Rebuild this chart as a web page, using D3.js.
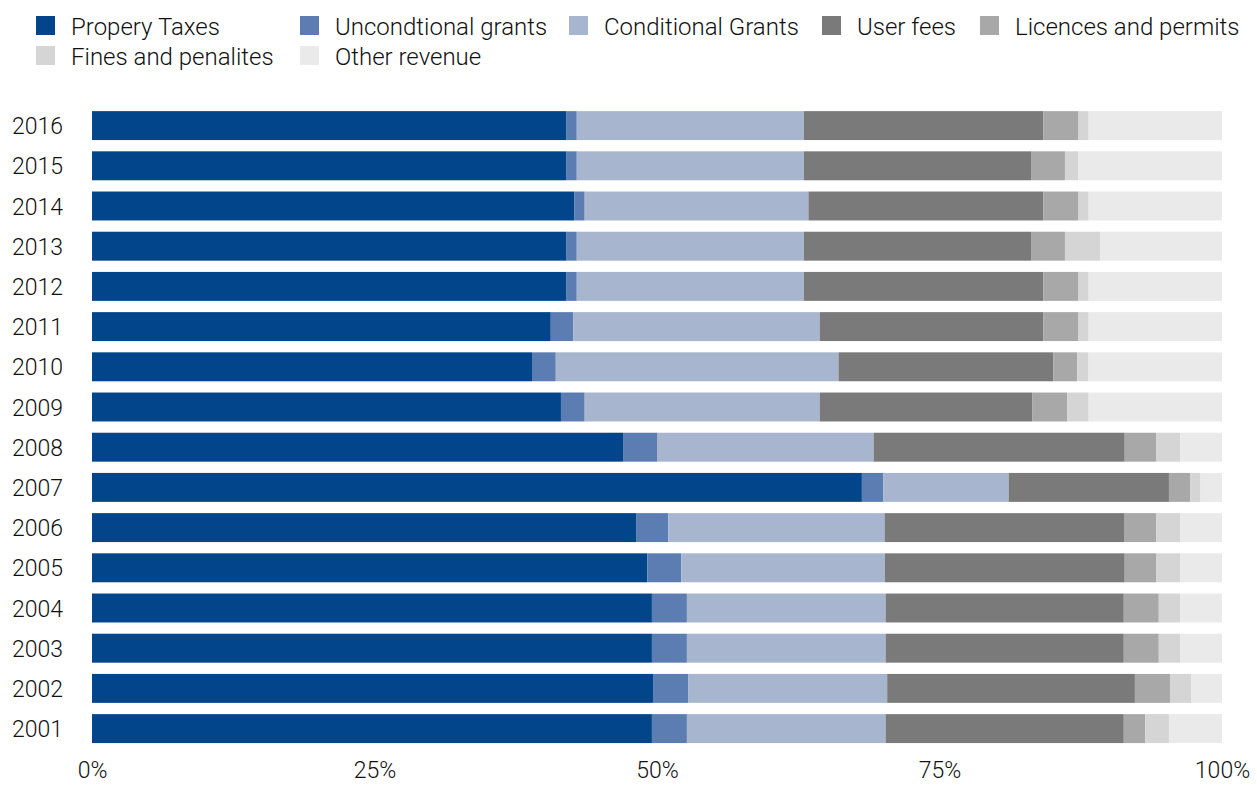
<!DOCTYPE html>
<html lang="en">
  <head>
    <meta charset="utf-8"/>
    <title>Revenue sources by year</title>
    <script src="https://cdn.jsdelivr.net/npm/d3@7"></script>
    <style>
      body { margin: 0; background: #fff; }
      text { font-family: Roboto, "Liberation Sans", sans-serif; font-weight: 300; fill: #111; }
    </style>
  </head>
  <body>
    <div id="chart"></div>
    <script type="text/javascript">

      // chart data, top bar first
      var years = ["2016","2015","2014","2013","2012","2011","2010","2009",
                   "2008","2007","2006","2005","2004","2003","2002","2001"];
      var seriesNames = ["Propery Taxes","Uncondtional grants","Conditional Grants",
                         "User fees","Licences and permits","Fines and penalites","Other revenue"];
      var propertyTaxes = [42.0,42.0,42.7,42.0,42.0,40.6,38.9,41.5,47.0,68.2,48.1,49.1,49.6,49.6,49.6,49.6];
      var unconditional = [ 0.9, 0.9, 0.9, 0.9, 0.9, 2.0, 2.1, 2.1, 3.0, 1.9, 2.8, 3.0, 3.1, 3.1, 3.1, 3.1];
      var conditional   = [20.1,20.1,19.8,20.1,20.1,21.8,25.0,20.8,19.1,11.1,19.1,18.0,17.6,17.6,17.6,17.6];
      var userFees      = [21.2,20.1,20.8,20.1,21.2,19.8,19.0,18.8,22.2,14.2,21.2,21.2,21.1,21.1,21.9,21.1];
      var licences      = [ 3.1, 3.0, 3.1, 3.0, 3.1, 3.1, 2.1, 3.1, 2.8, 1.9, 2.8, 2.8, 3.1, 3.1, 3.1, 1.9];
      var fines         = [ 0.9, 1.2, 0.9, 3.1, 0.9, 0.9, 1.0, 1.9, 2.1, 0.9, 2.1, 2.1, 1.9, 1.9, 1.9, 2.1];
      var otherRevenue  = [11.8,12.7,11.8,10.8,11.8,11.8,11.8,11.8, 3.7, 1.9, 3.7, 3.7, 3.7, 3.7, 2.7, 4.7];
      var xTicks = [0, 0.25, 0.5, 0.75, 1];

      var colours = ["#03458a","#5b7db1","#a7b6ce","#7a7a7a","#a8a8a8","#d5d5d5","#eaeaea"];

      var w = 1257;
      var h = 785;

      // build rows for the stack
      var seriesValues = [propertyTaxes, unconditional, conditional, userFees, licences, fines, otherRevenue];
      var rows = years.map(function(y, i) {
        var row = { year: y };
        seriesNames.forEach(function(s, j) { row[s] = seriesValues[j][i]; });
        return row;
      });

      var stack = d3.stack()
        .keys(seriesNames)
        .offset(d3.stackOffsetExpand);
      var stacked = stack(rows);

      var x = d3.scaleLinear()
        .domain([0, 1])
        .range([92, 1222]);

      var y = d3.scaleBand()
        .domain(years)
        .range([105.5, 748.7])
        .paddingInner(0.28)
        .paddingOuter(0.14);

      var colour = d3.scaleOrdinal()
        .domain(seriesNames)
        .range(colours);

      var svg = d3.select("#chart")
        .append("svg")
        .attr("width", w)
        .attr("height", h);

      // bars
      svg.append("g")
        .selectAll("g")
        .data(stacked)
        .enter()
        .append("g")
        .attr("fill", function(d) { return colour(d.key); })
        .selectAll("rect")
        .data(function(d) { return d; })
        .enter()
        .append("rect")
        .attr("x", function(d) { return x(d[0]); })
        .attr("y", function(d) { return y(d.data.year); })
        .attr("width", function(d) { return x(d[1]) - x(d[0]); })
        .attr("height", y.bandwidth());

      // year labels
      svg.append("g")
        .selectAll("text")
        .data(years)
        .enter()
        .append("text")
        .attr("x", 12)
        .attr("y", function(d) { return y(d) + y.bandwidth() / 2; })
        .attr("dy", "0.37em")
        .style("font-size", "23px")
        .text(function(d) { return d; });

      // percentage axis
      var xAxis = d3.axisBottom(x)
        .tickValues(xTicks)
        .tickFormat(d3.format(".0%"))
        .tickSize(0)
        .tickPadding(0);

      var axisG = svg.append("g")
        .attr("transform", "translate(0,762)")
        .call(xAxis);
      axisG.select(".domain").remove();
      axisG.selectAll("text")
        .attr("dy", "0.71em")
        .style("font-size", "23px")
        .style("font-family", null)
        .attr("fill", null);

      // legend, five columns
      var legendX = [36, 300, 569, 822, 980];
      var legend = svg.append("g")
        .selectAll("g")
        .data(seriesNames)
        .enter()
        .append("g")
        .attr("transform", function(d, i) {
          return "translate(" + legendX[i % 5] + "," + (16 + Math.floor(i / 5) * 30) + ")";
        });
      legend.append("rect")
        .attr("width", 19)
        .attr("height", 19)
        .attr("fill", function(d) { return colour(d); });
      legend.append("text")
        .attr("x", 35)
        .attr("y", 11)
        .attr("dy", "0.35em")
        .style("font-size", "24px")
        .text(function(d) { return d; });
    </script>
  </body>
</html>
